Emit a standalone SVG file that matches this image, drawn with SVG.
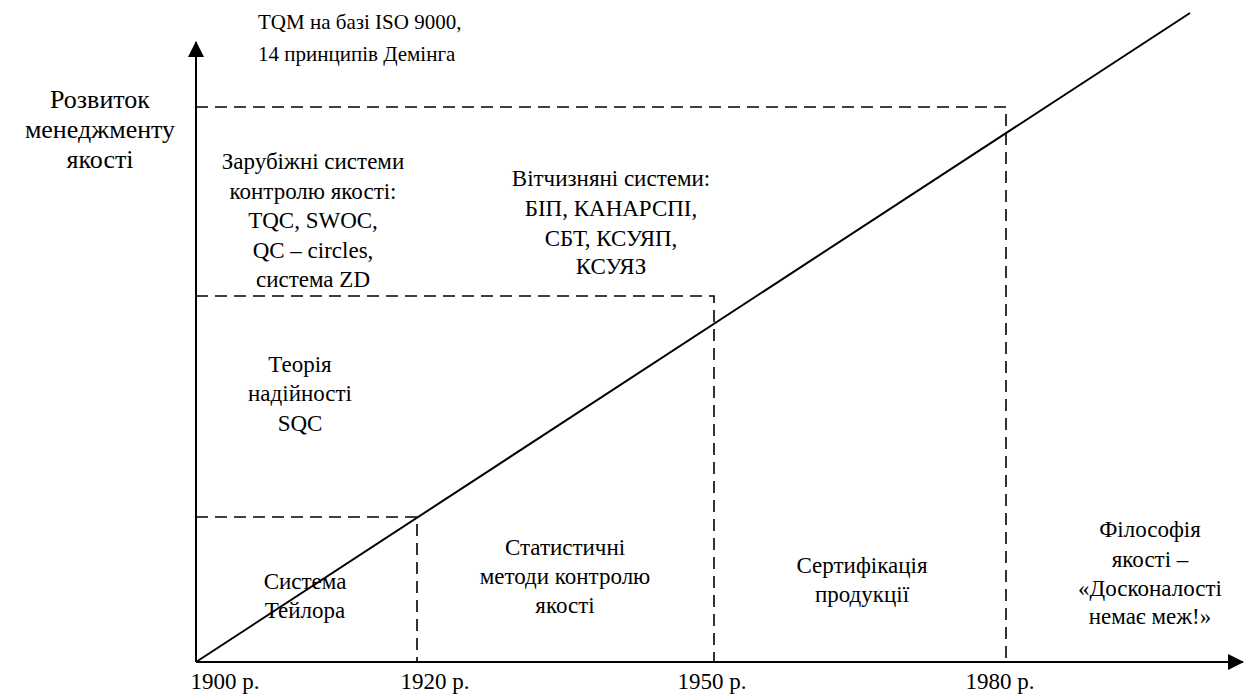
<svg xmlns="http://www.w3.org/2000/svg" width="1249" height="695" viewBox="0 0 1249 695">
  <style>
    .t { font-family: 'Liberation Serif', 'Times New Roman', 'DejaVu Serif', serif; font-size: 23px; fill: #000; text-anchor: middle; }
    .l { text-anchor: start; }
    .sm { font-size: 21px; }
    .lg { font-size: 26px; }
    .axis { stroke: #000; stroke-width: 2; fill: none; }
    .dash { stroke: #000; stroke-width: 1.6; stroke-dasharray: 12 7; fill: none; }
    .diag { stroke: #000; stroke-width: 2; fill: none; }
  </style>
  <defs>
    <marker id="arrow" viewBox="0 0 16 16" refX="15" refY="8" markerWidth="16" markerHeight="16" markerUnits="userSpaceOnUse" orient="auto">
      <path d="M0,0 L16,8 L0,16 Z" fill="#000"/>
    </marker>
  </defs>
  <rect width="1249" height="695" fill="#fff"/>

  <g id="connectors">
    <!-- axes -->
    <line class="axis" x1="196" y1="662" x2="196" y2="42" marker-end="url(#arrow)"/>
    <line class="axis" x1="196" y1="662" x2="1243" y2="662" marker-end="url(#arrow)"/>
    <!-- growth line -->
    <line class="diag" x1="196" y1="662" x2="1190" y2="13"/>
    <!-- period guides -->
    <polyline class="dash" points="196,517 417,517 417,662"/>
    <polyline class="dash" points="196,296 714,296 714,662"/>
    <polyline class="dash" points="196,107 1006,107 1006,662"/>
  </g>

  <g id="axis-title">
    <text class="t lg" x="100" y="108">Розвиток</text>
    <text class="t lg" x="100" y="138">менеджменту</text>
    <text class="t lg" x="100" y="168">якості</text>
  </g>

  <g id="node-tqm">
    <text class="t l sm" x="258" y="29">TQM на базі ISO 9000,</text>
    <text class="t l sm" x="258" y="61">14 принципів Демінга</text>
  </g>

  <g id="node-foreign">
    <text class="t" x="313" y="169">Зарубіжні системи</text>
    <text class="t" x="313" y="199">контролю якості:</text>
    <text class="t" x="313" y="228">TQC, SWOC,</text>
    <text class="t" x="313" y="258">QC – circles,</text>
    <text class="t" x="313" y="287">система ZD</text>
  </g>

  <g id="node-domestic">
    <text class="t" x="611" y="186">Вітчизняні системи:</text>
    <text class="t" x="611" y="216">БІП, КАНАРСПІ,</text>
    <text class="t" x="611" y="246">СБТ, КСУЯП,</text>
    <text class="t" x="611" y="274">КСУЯЗ</text>
  </g>

  <g id="node-reliability">
    <text class="t" x="300" y="372">Теорія</text>
    <text class="t" x="300" y="401">надійності</text>
    <text class="t" x="300" y="431">SQC</text>
  </g>

  <g id="node-taylor">
    <text class="t" x="305" y="589">Система</text>
    <text class="t" x="305" y="618">Тейлора</text>
  </g>

  <g id="node-statistical">
    <text class="t" x="565" y="555">Статистичні</text>
    <text class="t" x="565" y="584">методи контролю</text>
    <text class="t" x="565" y="613">якості</text>
  </g>

  <g id="node-certification">
    <text class="t" x="862" y="573">Сертифікація</text>
    <text class="t" x="862" y="602">продукції</text>
  </g>

  <g id="node-philosophy">
    <text class="t" x="1150" y="537">Філософія</text>
    <text class="t" x="1150" y="567">якості –</text>
    <text class="t" x="1150" y="596">«Досконалості</text>
    <text class="t" x="1150" y="624">немає меж!»</text>
  </g>

  <g id="years">
    <text class="t" x="225" y="689">1900 р.</text>
    <text class="t" x="435" y="689">1920 р.</text>
    <text class="t" x="712" y="689">1950 р.</text>
    <text class="t" x="1000" y="689">1980 р.</text>
  </g>
</svg>
